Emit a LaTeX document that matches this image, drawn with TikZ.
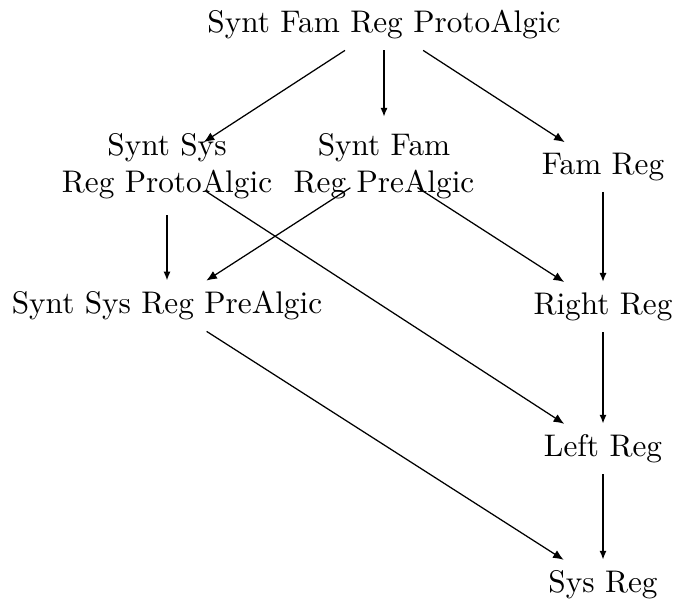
\documentclass[tikz,border=0pt]{standalone}
\usetikzlibrary{arrows.meta}
\begin{document}
\begin{tikzpicture}[x=0.3198pt,y=-0.3198pt,
  lbl/.style={inner sep=3.3pt},
  arr/.style={-{Latex[length=3.4pt,width=2.8pt]}, line width=0.4pt},
  varr/.style={-{Latex[length=2.9pt,width=2.3pt]}, line width=0.85pt}]
\useasboundingbox (0,0) rectangle (675,603);

% lattice of regularity notions
\node[lbl] (top) at (384,25) {Synt Fam Reg ProtoAlgic};
\node[lbl,align=center] (ss) at (167,166) {Synt Sys\\Reg ProtoAlgic};
\node[lbl,align=center] (sf) at (384,166) {Synt Fam\\Reg PreAlgic};
\node[lbl] (fr) at (603,167) {Fam Reg};
\node[lbl] (ssp) at (167,306) {Synt Sys Reg PreAlgic};
\node[lbl] (rr) at (603,307) {Right Reg};
\node[lbl] (lr) at (603,449) {Left Reg};
\node[lbl] (sr) at (603,585) {Sys Reg};

% implications
\draw[arr] (top) -- (ss.center) [shorten >=14pt];
\draw[varr,shorten >=15.7pt] (top) -- (sf.center);
\draw[arr] (top) -- (fr);
\draw[varr,shorten <=15.7pt] (ss.center) -- (ssp);
\draw[arr,shorten <=12.8pt] (sf.center) -- (ssp);
\draw[arr,shorten <=15pt] (ss.center) -- (lr);
\draw[arr,shorten <=12.7pt] (sf.center) -- (rr);
\draw[varr] (fr) -- (rr);
\draw[arr] (ssp) -- (sr);
\draw[varr] (rr) -- (lr);
\draw[varr] (lr) -- (sr);
\end{tikzpicture}
\end{document}
